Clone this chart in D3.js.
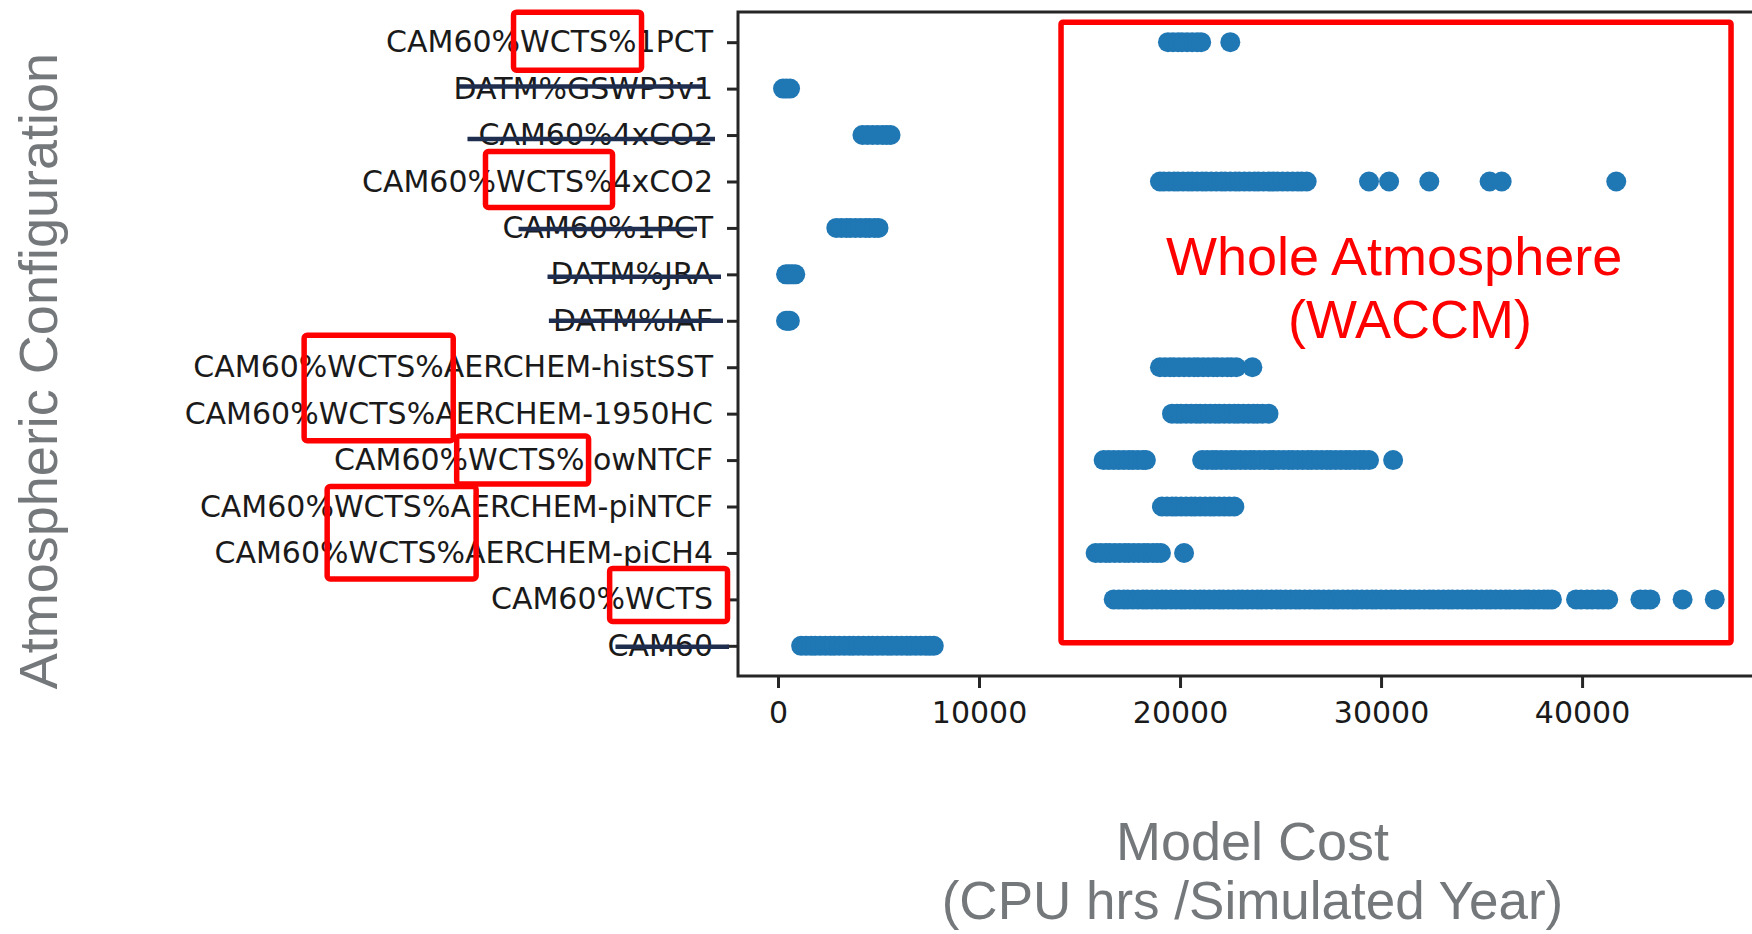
<!DOCTYPE html>
<html>
<head>
<meta charset="utf-8">
<script src="https://cdn.jsdelivr.net/npm/d3@7"></script>
<style>
  html, body { margin: 0; padding: 0; background: #ffffff; }
  svg { display: block; }
</style>
</head>
<body>
<svg id="chart" width="1752" height="934"></svg>
<script>
// ---------------- DATA ----------------
const categories = [
  "CAM60%WCTS%1PCT",
  "DATM%GSWP3v1",
  "CAM60%4xCO2",
  "CAM60%WCTS%4xCO2",
  "CAM60%1PCT",
  "DATM%JRA",
  "DATM%IAF",
  "CAM60%WCTS%AERCHEM-histSST",
  "CAM60%WCTS%AERCHEM-1950HC",
  "CAM60%WCTS%lowNTCF",
  "CAM60%WCTS%AERCHEM-piNTCF",
  "CAM60%WCTS%AERCHEM-piCH4",
  "CAM60%WCTS",
  "CAM60"
];

// Model cost (CPU hrs / simulated year), one list per configuration (same order as categories)
const costWCTS1PCT  = [19400, 19650, 19900, 20100, 20350, 20600, 20850, 21050, 22500];
const costGSWP3v1   = [250, 420, 600];
const cost4xCO2     = [4200, 4450, 4700, 4950, 5200, 5400, 5600];
const costWCTS4xCO2 = [19000, 19200, 19450, 19700, 19900, 20150, 20400, 20600, 20850, 21100, 21300, 21550,
                       21800, 22050, 22250, 22500, 22750, 22950, 23200, 23450, 23700, 23900, 24150, 24400,
                       24650, 24850, 25100, 25350, 25600, 25850, 26050, 26300,
                       29400, 30400, 32400, 35400, 36000, 41700];
const cost1PCT      = [2900, 3150, 3400, 3600, 3850, 4100, 4350, 4550, 4800, 5000];
const costJRA       = [400, 550, 700, 860];
const costIAF       = [400, 500, 590];
const costHistSST   = [19000, 19250, 19500, 19700, 19950, 20200, 20450, 20700, 20900, 21150, 21400, 21650,
                       21850, 22100, 22350, 22550, 22800, 23600];
const cost1950HC    = [19600, 19850, 20050, 20300, 20550, 20800, 21000, 21250, 21500, 21750, 21950, 22200,
                       22450, 22700, 22900, 23150, 23400, 23650, 23850, 24100, 24400];
const costLowNTCF   = [16200, 16450, 16700, 16950, 17200, 17450, 17650, 17900, 18150, 18300,
                       21100, 21350, 21600, 21800, 22050, 22300, 22550, 22750, 23000, 23250, 23500, 23700,
                       23950, 24200, 24450, 24650, 24900, 25150, 25400, 25600, 25850, 26100, 26350, 26550,
                       26800, 27050, 27300, 27500, 27750, 28000, 28250, 28450, 28700, 28950, 29150, 29400,
                       30600];
const costPiNTCF    = [19100, 19350, 19600, 19800, 20050, 20300, 20550, 20750, 21000, 21250, 21500, 21700,
                       21950, 22200, 22450, 22700];
const costPiCH4     = [15800, 16050, 16300, 16500, 16750, 17000, 17250, 17450, 17700, 17950, 18200, 18400,
                       18650, 18850, 19050, 20200];
const costWCTS      = [16700, 16950, 17200, 17400, 17650, 17900, 18150, 18350, 18600, 18850, 19100, 19300,
                       19550, 19800, 20050, 20250, 20500, 20750, 21000, 21200, 21450, 21700, 21950, 22150,
                       22400, 22650, 22900, 23100, 23350, 23600, 23850, 24050, 24300, 24550, 24800, 25000,
                       25250, 25500, 25750, 25950, 26200, 26450, 26700, 26900, 27150, 27400, 27650, 27850,
                       28100, 28350, 28600, 28800, 29050, 29300, 29550, 29750, 30000, 30250, 30500, 30700,
                       30950, 31200, 31450, 31650, 31900, 32150, 32400, 32600, 32850, 33100, 33350, 33550,
                       33800, 34050, 34300, 34500, 34750, 35000, 35250, 35450, 35700, 35950, 36200, 36400,
                       36650, 36900, 37150, 37350, 37600, 37850, 38100, 38300, 38500,
                       39700, 39950, 40250, 40500, 40800, 41050, 41300,
                       42900, 43150, 43400, 45000, 46600];
const costCAM60     = [1150, 1400, 1650, 1850, 2100, 2350, 2600, 2800, 3050, 3300, 3550, 3750, 4000, 4250,
                       4500, 4700, 4950, 5200, 5450, 5650, 5900, 6150, 6400, 6600, 6850, 7100, 7350, 7550, 7750];

const costSeries = [costWCTS1PCT, costGSWP3v1, cost4xCO2, costWCTS4xCO2, cost1PCT, costJRA, costIAF,
                    costHistSST, cost1950HC, costLowNTCF, costPiNTCF, costPiCH4, costWCTS, costCAM60];

const xTicks = [0, 10000, 20000, 30000, 40000];
const xDomain = [-1990, 49000];

const yTitle = "Atmospheric Configuration";
const xTitleLines = ["Model Cost", "(CPU hrs /Simulated Year)"];
const waccmLines = ["Whole Atmosphere", "(WACCM)"];

// Labels that are struck through
const struckLabels = ["DATM%GSWP3v1", "CAM60%4xCO2", "CAM60%1PCT", "DATM%JRA", "DATM%IAF", "CAM60"];
// Label groups with red highlight boxes around the "%WCTS%" part
const highlightGroups = [
  ["CAM60%WCTS%1PCT"],
  ["CAM60%WCTS%4xCO2"],
  ["CAM60%WCTS%AERCHEM-histSST", "CAM60%WCTS%AERCHEM-1950HC"],
  ["CAM60%WCTS%lowNTCF"],
  ["CAM60%WCTS%AERCHEM-piNTCF", "CAM60%WCTS%AERCHEM-piCH4"],
  ["CAM60%WCTS"]
];
// Whole-atmosphere region (x range in data units)
const waccmRange = [14080, 47410];

// ---------------- STYLE / LAYOUT ----------------
const M = { left: 738, right: 1763, top: 12, bottom: 676 };
const dotColor = "#1f77b4";
const dotR = 10;
const spineColor = "#262626";
const titleColor = "#75787b";
const red = "#ff0000";
const strikeColor = "#1f2e4e";
const tickFont = "'DejaVu Sans', sans-serif";
const titleFont = "'Liberation Sans', Arial, sans-serif";

// per-strike style offsets: [startPad, endPad, dy] (px relative to text bounds / tick)
const strikeStyle = [[5, -9, -2], [-11, 2, 4], [16, -16, 1], [-3, 8, 2.5], [-4, 10, 0], [8, 16, 1]];
// per-highlight box style: [refRowIndexInGroup, startChar, endChar, extraEndPx, padTop, padBottom]
const boxStyle = [
  [0, 5.77, 11.26, 0, 30, 28],
  [0, 5.63, 11.0, 0, 30, 26],
  [1, 5.49, 11.88, 0, 32, 27],
  [0, 5.6, 11.48, 0, 24, 24],
  [1, 5.25, 11.54, 0, 20, 26],
  [0, 5.46, 10, 14.5, 31, 22]
];

// ---------------- SCALES ----------------
const svg = d3.select("#chart");
const x = d3.scaleLinear().domain(xDomain).range([M.left, M.right]);
const y = d3.scalePoint().domain(categories).range([M.top, M.bottom]).padding(0.65);

// ---------------- AXES ----------------
const yAxis = d3.axisLeft(y).tickSize(11).tickSizeOuter(0).tickPadding(14);
const gy = svg.append("g").attr("transform", `translate(${M.left},0)`).call(yAxis);
gy.select(".domain").remove();
gy.selectAll(".tick line").attr("stroke", spineColor).attr("stroke-width", 3);
gy.selectAll(".tick text")
  .attr("font-family", tickFont).attr("font-size", 30).attr("fill", "#1a1a1a");

const xAxis = d3.axisBottom(x).tickValues(xTicks).tickFormat(d3.format("d"))
  .tickSize(12).tickSizeOuter(0).tickPadding(14);
const gx = svg.append("g").attr("transform", `translate(0,${M.bottom})`).call(xAxis);
gx.select(".domain").remove();
gx.selectAll(".tick line").attr("stroke", spineColor).attr("stroke-width", 3);
gx.selectAll(".tick text")
  .attr("font-family", tickFont).attr("font-size", 30).attr("fill", "#1a1a1a");

// spines (left, top, bottom)
const spines = svg.append("g").attr("stroke", spineColor).attr("stroke-width", 3).attr("fill", "none");
spines.append("path").attr("d", `M${M.right},${M.top}H${M.left}V${M.bottom}H${M.right}`);

// ---------------- POINTS ----------------
const points = [];
costSeries.forEach((vals, i) => vals.forEach(v => points.push({ cat: categories[i], v })));
svg.append("g").selectAll("circle").data(points).join("circle")
  .attr("cx", d => x(d.v)).attr("cy", d => y(d.cat)).attr("r", dotR)
  .attr("fill", dotColor);

// ---------------- TITLES ----------------
svg.append("text")
  .attr("transform", `translate(57,${(y(categories[0]) + M.bottom) / 2 + 12}) rotate(-90)`)
  .attr("text-anchor", "middle").attr("font-family", titleFont).attr("font-size", 54)
  .attr("fill", titleColor).text(yTitle);

const xMid = (M.left + M.right) / 2 + 2;
svg.append("text").attr("x", xMid).attr("y", M.bottom + 184)
  .attr("text-anchor", "middle").attr("font-family", titleFont).attr("font-size", 54)
  .attr("fill", titleColor).text(xTitleLines[0]);
svg.append("text").attr("x", xMid).attr("y", M.bottom + 243)
  .attr("text-anchor", "middle").attr("font-family", titleFont).attr("font-size", 53)
  .attr("fill", titleColor).attr("xml:space", "preserve").text(xTitleLines[1]);

// ---------------- ANNOTATIONS ----------------
const labelNode = {};
gy.selectAll(".tick").each(function(d) { labelNode[d] = d3.select(this).select("text").node(); });

function absStart(node) {
  const bb = node.getBBox();
  return M.left + bb.x; // tick group translated to M.left
}
function charPos(node, idx) {
  const n = node.getNumberOfChars();
  const i = Math.min(Math.floor(idx), n);
  let pos = absStart(node) + (i > 0 ? node.getSubStringLength(0, i) : 0);
  if (i < n) pos += (idx - i) * node.getSubStringLength(i, 1);
  return pos;
}

// strike-through lines
const strikes = svg.append("g");
struckLabels.forEach((lab, k) => {
  const node = labelNode[lab];
  const s = absStart(node);
  const e = s + node.getComputedTextLength();
  const [p0, p1, dy] = strikeStyle[k];
  strikes.append("line")
    .attr("x1", s + p0).attr("x2", e + p1)
    .attr("y1", y(lab) + dy).attr("y2", y(lab) + dy)
    .attr("stroke", strikeColor).attr("stroke-width", 4.5);
});

// red highlight boxes
const boxes = svg.append("g").attr("fill", "none").attr("stroke", red).attr("stroke-width", 5.5);
highlightGroups.forEach((grp, k) => {
  const [ri, c0, c1, extra, pt, pb] = boxStyle[k];
  const node = labelNode[grp[ri]];
  const x0 = charPos(node, c0);
  const x1 = charPos(node, c1) + extra;
  const y0 = y(grp[0]) - pt;
  const y1 = y(grp[grp.length - 1]) + pb;
  boxes.append("rect").attr("x", x0).attr("y", y0)
    .attr("width", x1 - x0).attr("height", y1 - y0).attr("rx", 3);
});

// whole-atmosphere region
svg.append("rect")
  .attr("x", x(waccmRange[0])).attr("y", y(categories[0]) - 20)
  .attr("width", x(waccmRange[1]) - x(waccmRange[0]))
  .attr("height", y(categories[categories.length - 1]) - 3 - (y(categories[0]) - 20))
  .attr("fill", "none").attr("stroke", red).attr("stroke-width", 5.5).attr("rx", 2);

svg.append("text").attr("x", x(30650)).attr("y", y("DATM%JRA") + 1)
  .attr("text-anchor", "middle").attr("font-family", titleFont).attr("font-size", 54)
  .attr("fill", red).text(waccmLines[0]);
svg.append("text").attr("x", x(31440)).attr("y", y("DATM%JRA") + 64)
  .attr("text-anchor", "middle").attr("font-family", titleFont).attr("font-size", 54)
  .attr("fill", red).text(waccmLines[1]);
</script>
</body>
</html>
